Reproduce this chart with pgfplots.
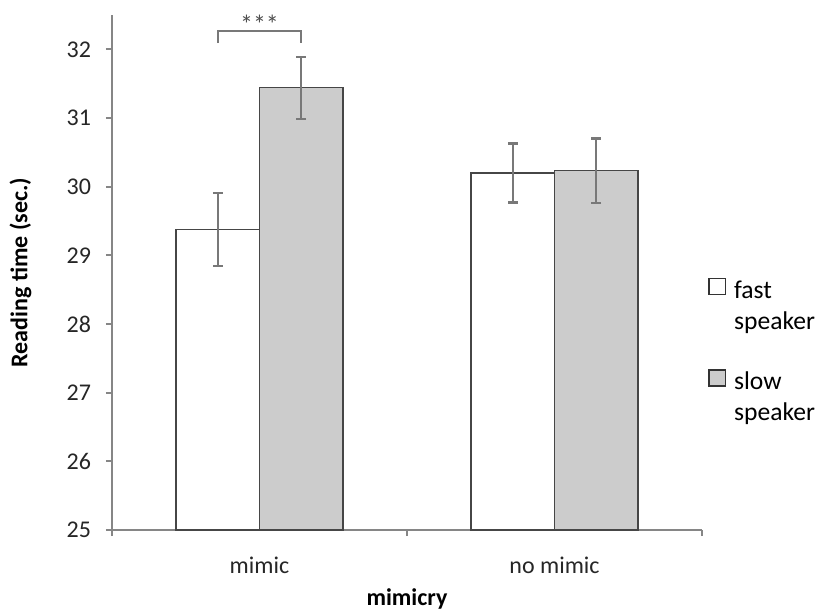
\documentclass[border=0pt]{standalone}
\usepackage{pgfplots}
\pgfplotsset{compat=1.18}
\usepackage{fontspec}
\setmainfont{Carlito}
\definecolor{axgray}{RGB}{134,134,134}
\definecolor{errgray}{RGB}{120,120,120}
\definecolor{barfill}{RGB}{204,204,204}
\definecolor{baredge}{RGB}{70,70,70}
\begin{document}
\begin{tikzpicture}
\begin{axis}[
  scale only axis,
  width=295pt, height=257.5pt,
  xmin=-0.5, xmax=1.5, ymin=25, ymax=32.5,
  clip=false,
  ybar=0pt, bar width=0.283,
  axis lines*=left,
  axis line style={axgray, line width=0.9pt},
  xtick={-0.5,0.5,1.5},
  xticklabels={},
  extra x ticks={0,1},
  extra x tick labels={mimic, no mimic},
  extra x tick style={major tick length=0pt},
  ytick={25,26,...,32},
  tick align=outside,
  tick style={axgray, line width=0.9pt},
  major tick length=3pt,
  /pgf/number format/assume math mode=true,
  ticklabel style={font=\fontsize{12}{13}\selectfont, text=black!85},
  xticklabel style={yshift=-10pt},
  yticklabel style={xshift=-4pt},
  ylabel={\textbf{Reading time (sec.)}},
  xlabel={\textbf{mimicry}},
  label style={font=\fontsize{12}{14}\selectfont},
  ylabel style={at={(rel axis cs:-0.155,0.5)}, anchor=center},
  xlabel style={at={(rel axis cs:0.5,-0.134)}, anchor=center},
  legend style={at={(rel axis cs:1.01,0.50)}, anchor=north west, draw=none, fill=none,
    font=\fontsize{12.8}{15.8}\selectfont, inner sep=0pt, row sep=30pt,
    nodes={inner sep=1.5pt}},
  legend cell align=left,
  legend image code/.code={\draw[#1, draw=black!80, line width=0.6pt] (0pt,-3.2pt) rectangle (8.3pt,4.8pt);},
  error bars/error bar style={errgray, line width=1.1pt},
  error bars/error mark options={rotate=90, errgray, mark size=2.4pt, line width=1.1pt},
]
\addplot[fill=white, draw=baredge, line width=0.6pt,
  error bars/.cd, y dir=both, y explicit]
  coordinates {(0,29.38) +- (0,0.53) (1,30.20) +- (0,0.43)};
\addlegendentry{\begin{tabular}[t]{@{\hspace{2.5pt}}l@{}}fast\\speaker\end{tabular}}
\addplot[fill=barfill, draw=baredge, line width=0.6pt,
  error bars/.cd, y dir=both, y explicit]
  coordinates {(0,31.44) +- (0,0.45) (1,30.23) +- (0,0.47)};
\addlegendentry{\begin{tabular}[t]{@{\hspace{2.5pt}}l@{}}slow\\speaker\end{tabular}}
\draw[errgray, line width=0.9pt] (axis cs:-0.1415,32.09) -- (axis cs:-0.1415,32.27) -- (axis cs:0.1415,32.27) -- (axis cs:0.1415,32.09);
\node[text=black!70, font=\fontsize{13}{14}\selectfont] at (axis cs:0,32.37) {***};
\path (rel axis cs:-0.1898,-0.1592) rectangle (rel axis cs:1.2203,1.0291);
\end{axis}
\end{tikzpicture}
\end{document}
